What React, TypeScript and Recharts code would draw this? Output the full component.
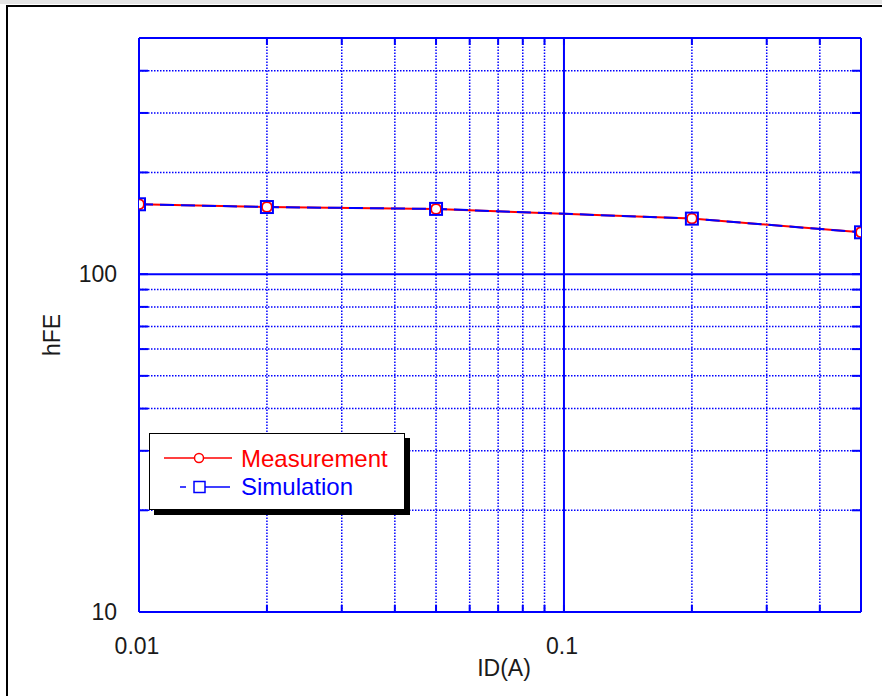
import React from 'react';
import { LineChart, Line, XAxis, YAxis, ReferenceLine } from 'recharts';

// ID (A) values where both curves were sampled
const current = [0.01, 0.02, 0.05, 0.2, 0.5];
const measured = [161, 158, 156, 146, 133];
const simulated = [161, 158, 156, 146, 133];

const xTicks = [0.01, 0.02, 0.03, 0.04, 0.05, 0.06, 0.07, 0.08, 0.09, 0.1, 0.2, 0.3, 0.4, 0.5];
const xMinor = [0.02, 0.03, 0.04, 0.05, 0.06, 0.07, 0.08, 0.09, 0.2, 0.3, 0.4];
const xMajor = [0.1];
const xLabels = [0.01, 0.1];

const yTicks = [10, 20, 30, 40, 50, 60, 70, 80, 90, 100, 200, 300, 400, 500];
const yMinor = [20, 30, 40, 50, 60, 70, 80, 90, 200, 300, 400];
const yMajor = [100];
const yLabels = [10, 100];

const BLUE = '#0000ff';
const RED = '#ff0000';
const FONT = '"Liberation Sans", Arial, sans-serif';

const data = current.map((x, i) => ({ x, meas: measured[i], sim: simulated[i] }));

const leftTick = (p: any) => {
    const v = p.payload.value;
    return (
        <g>
            <line x1={p.x} x2={p.x + 9} y1={p.y} y2={p.y} stroke={BLUE} strokeWidth={2} />
            {yLabels.includes(v) && (
                <text x={p.x - 22} y={p.y + 8} textAnchor="end" fontFamily={FONT} fontSize={23} fill="#1a1a1a">
                    {v}
                </text>
            )}
        </g>
    );
};

const rightTick = (p: any) => (
    <line x1={p.x} x2={p.x - 9} y1={p.y} y2={p.y} stroke={BLUE} strokeWidth={2} />
);

const bottomTick = (p: any) => {
    const v = p.payload.value;
    return (
        <g>
            <line x1={p.x} x2={p.x} y1={p.y} y2={p.y - 7} stroke={BLUE} strokeWidth={2} />
            {xLabels.includes(v) && (
                <text x={p.x - 2} y={p.y + 42} textAnchor="middle" fontFamily={FONT} fontSize={23} fill="#1a1a1a">
                    {v}
                </text>
            )}
        </g>
    );
};

const topTick = (p: any) => (
    <line x1={p.x} x2={p.x} y1={p.y} y2={p.y + 7} stroke={BLUE} strokeWidth={2} />
);

const circleDot = (p: any) => (
    <circle key={'m' + p.index} cx={p.cx} cy={p.cy} r={5} stroke={RED} strokeWidth={2} fill="#fff" />
);

const squareDot = (p: any) => (
    <rect key={'s' + p.index} x={p.cx - 6} y={p.cy - 6} width={12} height={12} stroke={BLUE} strokeWidth={2} fill="none" />
);

const series = [
    { name: 'Measurement', color: RED },
    { name: 'Simulation', color: BLUE },
];

const LegendBox = () => (
    <div style={{ position: 'absolute', left: 149, top: 433, width: 256, height: 77, background: '#fff', border: '1.5px solid #000', boxShadow: '5px 5px 0 #000', boxSizing: 'border-box' }}>
        <svg width={256} height={77} style={{ position: 'absolute', left: -1.5, top: -1.5 }}>
            <line x1={15} x2={83} y1={25} y2={25} stroke={series[0].color} strokeWidth={1.5} />
            <circle cx={50} cy={25} r={4.5} stroke={series[0].color} strokeWidth={1.5} fill="#fff" />
            <text x={92} y={34} fontFamily={FONT} fontSize={24} fill={series[0].color}>{series[0].name}</text>
            <line x1={31} x2={37} y1={54} y2={54} stroke={series[1].color} strokeWidth={1.5} />
            <rect x={45} y={48.5} width={11} height={11} stroke={series[1].color} strokeWidth={1.5} fill="#fff" />
            <line x1={56} x2={81} y1={54} y2={54} stroke={series[1].color} strokeWidth={1.5} />
            <text x={92} y={62} fontFamily={FONT} fontSize={24} fill={series[1].color}>{series[1].name}</text>
        </svg>
    </div>
);

const App: React.FC = () => {
    return (
        <div style={{ position: 'absolute', left: 0, top: 0, width: 882, height: 696, background: '#fff', overflow: 'hidden' }}>
            <div style={{ position: 'absolute', left: 0, top: 0, width: 882, height: 4, background: '#e4e4e4' }} />
            <div style={{ position: 'absolute', left: 6, top: 5, width: 900, height: 720, borderTop: '2px solid #000', borderLeft: '2px solid #000' }} />
            <div style={{ position: 'absolute', left: 0, top: 0 }}>
                <LineChart width={882} height={696} data={data} margin={{ top: 0, right: 0, bottom: 0, left: 0 }}>
                    <XAxis
                        xAxisId="b"
                        dataKey="x"
                        type="number"
                        scale="log"
                        domain={[0.01, 0.5]}
                        allowDataOverflow
                        ticks={xTicks}
                        interval={0}
                        height={84}
                        tickSize={0}
                        tickMargin={0}
                        tickLine={false}
                        axisLine={{ stroke: BLUE, strokeWidth: 2 }}
                        tick={bottomTick}
                        label={(props: any) => (
                            <text x={504} y={676} textAnchor="middle" fontFamily={FONT} fontSize={23} fill="#1a1a1a">
                                ID(A)
                            </text>
                        )}
                    />
                    <XAxis
                        xAxisId="t"
                        orientation="top"
                        dataKey="x"
                        type="number"
                        scale="log"
                        domain={[0.01, 0.5]}
                        allowDataOverflow
                        ticks={xTicks}
                        interval={0}
                        height={38}
                        tickSize={0}
                        tickMargin={0}
                        tickLine={false}
                        axisLine={{ stroke: BLUE, strokeWidth: 2 }}
                        tick={topTick}
                    />
                    <YAxis
                        yAxisId="l"
                        type="number"
                        scale="log"
                        domain={[10, 500]}
                        allowDataOverflow
                        ticks={yTicks}
                        interval={0}
                        width={139}
                        tickSize={0}
                        tickMargin={0}
                        tickLine={false}
                        axisLine={{ stroke: BLUE, strokeWidth: 2 }}
                        tick={leftTick}
                        label={(props: any) => (
                            <text x={60} y={335} textAnchor="middle" transform="rotate(-90 60 335)" fontFamily={FONT} fontSize={23} fill="#1a1a1a">
                                hFE
                            </text>
                        )}
                    />
                    <YAxis
                        yAxisId="r"
                        orientation="right"
                        type="number"
                        scale="log"
                        domain={[10, 500]}
                        allowDataOverflow
                        ticks={yTicks}
                        interval={0}
                        width={21}
                        tickSize={0}
                        tickMargin={0}
                        tickLine={false}
                        axisLine={{ stroke: BLUE, strokeWidth: 2 }}
                        tick={rightTick}
                    />

                    {xMinor.map((v) => (
                        <ReferenceLine key={'xm' + v} xAxisId="b" yAxisId="l" x={v} stroke={BLUE} strokeWidth={1.5} strokeDasharray="1.5 1.5" />
                    ))}
                    {yMinor.map((v) => (
                        <ReferenceLine key={'ym' + v} xAxisId="b" yAxisId="l" y={v} stroke={BLUE} strokeWidth={1.5} strokeDasharray="1.5 1.5" />
                    ))}
                    {xMajor.map((v) => (
                        <ReferenceLine key={'xM' + v} xAxisId="b" yAxisId="l" x={v} stroke={BLUE} strokeWidth={2} />
                    ))}
                    {yMajor.map((v) => (
                        <ReferenceLine key={'yM' + v} xAxisId="b" yAxisId="l" y={v} stroke={BLUE} strokeWidth={2} />
                    ))}

                    <Line
                        xAxisId="b"
                        yAxisId="l"
                        name={series[0].name}
                        dataKey="meas"
                        stroke={RED}
                        strokeWidth={2}
                        dot={circleDot}
                        isAnimationActive={false}
                    />
                    <Line
                        xAxisId="t"
                        yAxisId="r"
                        name={series[1].name}
                        dataKey="sim"
                        stroke={BLUE}
                        strokeWidth={2}
                        strokeDasharray="14 7"
                        dot={squareDot}
                        isAnimationActive={false}
                    />
                </LineChart>
            </div>
            <LegendBox />
        </div>
    );
};

export default App;
